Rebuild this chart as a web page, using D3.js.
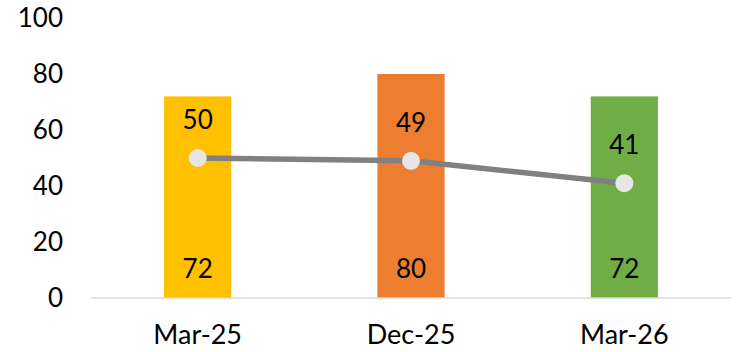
<!DOCTYPE html>
<html>
<head>
<meta charset="utf-8">
<script src="https://cdn.jsdelivr.net/npm/d3@7"></script>
<style>
  body { margin: 0; background: #fff; }
  svg text { font-family: "Lato", "DejaVu Sans", sans-serif; fill: #000; }
</style>
</head>
<body>
<div id="chart"></div>
<script>
var categories = ["Mar-25", "Dec-25", "Mar-26"];
var barValues = [72, 80, 72];
var lineValues = [50, 49, 41];
var barColors = ["#FFC000", "#ED7D31", "#70AD47"];
var yTicks = [0, 20, 40, 60, 80, 100];

var width = 746,
    height = 352;

var svg = d3.select("#chart")
    .append("svg")
        .attr("width", width)
        .attr("height", height);

var scaleX = d3.scaleBand()
    .domain(categories)
    .range([91, 731])
    .paddingInner(0.685)
    .paddingOuter(0.3425);

var scaleY = d3.scaleLinear()
    .domain([0, 100])
    .range([298, 18]);

// y tick labels (no axis line in the original)
svg.append("g")
    .selectAll("text")
    .data(yTicks)
    .enter()
    .append("text")
        .attr("x", 63)
        .attr("y", d => scaleY(d))
        .attr("dy", "0.35em")
        .attr("text-anchor", "end")
        .style("font-size", "26px")
        .text(d => d);

// bars
svg.selectAll(".bar")
    .data(categories)
    .enter()
    .append("rect")
        .attr("class", "bar")
        .attr("x", d => scaleX(d))
        .attr("y", (d, i) => scaleY(barValues[i]))
        .attr("width", scaleX.bandwidth())
        .attr("height", (d, i) => scaleY(0) - scaleY(barValues[i]))
        .attr("fill", (d, i) => barColors[i]);

// baseline
svg.append("line")
    .attr("x1", 91)
    .attr("x2", 731)
    .attr("y1", scaleY(0))
    .attr("y2", scaleY(0))
    .attr("stroke", "#D9D9D9")
    .attr("stroke-width", 1.5);

// category labels
svg.append("g")
    .attr("transform", "translate(0," + scaleY(0) + ")")
    .call(d3.axisBottom(scaleX).tickSize(0).tickPadding(27))
    .call(g => g.select(".domain").remove())
    .selectAll("text")
        .style("font-size", "27px")
        .style("font-family", "Lato, 'DejaVu Sans', sans-serif");

// bar value labels, inside base
svg.append("g")
    .selectAll("text")
    .data(categories)
    .enter()
    .append("text")
        .attr("x", d => scaleX(d) + scaleX.bandwidth() / 2)
        .attr("y", scaleY(0) - 29)
        .attr("dy", "0.35em")
        .attr("text-anchor", "middle")
        .style("font-size", "26px")
        .text((d, i) => barValues[i]);

// line
var cx = d => scaleX(d) + scaleX.bandwidth() / 2;
svg.append("path")
    .datum(categories)
    .attr("fill", "none")
    .attr("stroke", "#808080")
    .attr("stroke-width", 5.5)
    .attr("d", d3.line()
        .x(d => cx(d))
        .y((d, i) => scaleY(lineValues[i])));

svg.append("g")
    .selectAll("circle")
    .data(categories)
    .enter()
    .append("circle")
        .attr("cx", d => cx(d))
        .attr("cy", (d, i) => scaleY(lineValues[i]))
        .attr("r", 9)
        .attr("fill", "#E7E6E6");

// line value labels, above points
svg.append("g")
    .selectAll("text")
    .data(categories)
    .enter()
    .append("text")
        .attr("x", d => cx(d))
        .attr("y", (d, i) => scaleY(lineValues[i]) - 38)
        .attr("dy", "0.35em")
        .attr("text-anchor", "middle")
        .style("font-size", "26px")
        .text((d, i) => lineValues[i]);
</script>
</body>
</html>
